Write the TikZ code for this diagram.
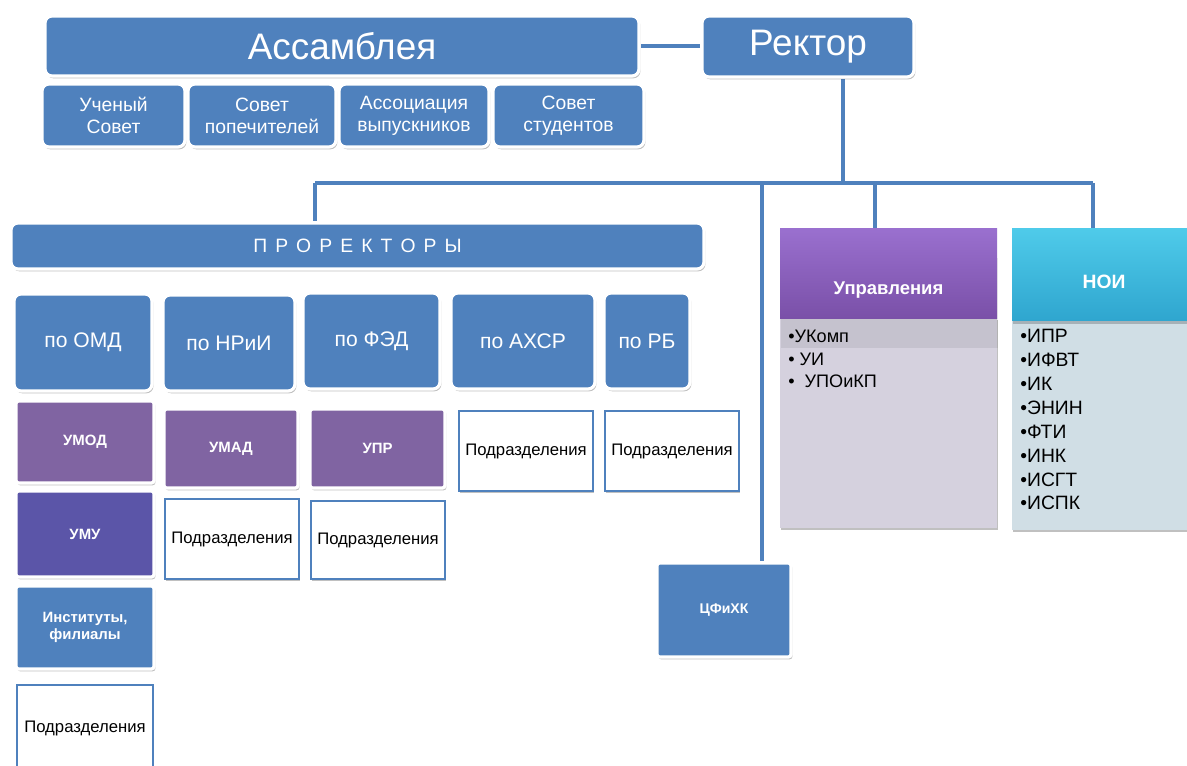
\documentclass[tikz,border=0pt]{standalone}
\usepackage{fontspec}
\setmainfont{Liberation Sans}
\usetikzlibrary{shadows,calc,backgrounds}
\definecolor{blu}{HTML}{4F81BD}
\definecolor{purp}{HTML}{8064A2}
\definecolor{umuc}{HTML}{5B55A8}
\definecolor{uprtop}{HTML}{9A70CF}
\definecolor{uprbot}{HTML}{7A50A8}
\definecolor{uprbody}{HTML}{D5D1DE}
\definecolor{noitop}{HTML}{4FCBEA}
\definecolor{noibot}{HTML}{2FA6CF}
\definecolor{noibody}{HTML}{D0DEE5}
\newcommand{\pbox}[7]{%
  \pgfmathsetmacro\bw{(#5-#3)*0.02}%
  \pgfmathsetmacro\bh{(#6-#4)*0.02}%
  \node[#1, minimum width=\bw cm, minimum height=\bh cm] (#2) at ({(#3+#5)/2},{(#4+#6)/2}) {#7};}
\tikzset{
  shad/.style={drop shadow={shadow xshift=0.8pt, shadow yshift=-1.3pt, opacity=0.35, fill=black!70}},
  bbox/.style={shad, fill=blu, draw=white, line width=1.8pt, rounded corners=4pt, text=white, inner sep=0pt, align=center},
  sqbox/.style={shad, draw=white, line width=1.8pt, rounded corners=1.5pt, text=white, inner sep=0pt, align=center, font=\fontsize{8.5pt}{10pt}\selectfont\bfseries},
  podbox/.style={shad, fill=white, draw=blu, line width=1.6pt, text=black, inner sep=0pt, align=center, font=\fontsize{9.5pt}{11pt}\selectfont},
  conn/.style={draw=blu, line width=2.8pt},
  listtext/.style={anchor=north west, align=left, inner sep=0pt, text=black}
}
\begin{document}
\begin{tikzpicture}[x=0.02cm,y=-0.02cm]
\clip (0,0) rectangle (1187,765);
% top
\pbox{bbox,font=\fontsize{21pt}{24pt}\selectfont}{asm}{45}{16}{639}{76}{Ассамблея}
\pbox{bbox,font=\fontsize{21pt}{24pt}\selectfont}{rek}{702}{16}{914}{77}{Ректор}
\pbox{bbox,font=\fontsize{11pt}{12.5pt}\selectfont}{us}{42}{84}{185}{147}{Ученый\\Совет}
\pbox{bbox,font=\fontsize{11pt}{12.5pt}\selectfont}{sp}{188}{84}{336}{147}{Совет\\попечителей}
\pbox{bbox,font=\fontsize{11pt}{12.5pt}\selectfont}{av}{339}{84}{489}{147}{Ассоциация\\выпускников}
\pbox{bbox,font=\fontsize{11pt}{12.5pt}\selectfont}{ss}{493}{84}{644}{147}{Совет\\студентов}
% prorektory
\pbox{bbox,font=\fontsize{11pt}{13pt}\selectfont}{pro}{11}{223}{704}{269}{П\hspace{4.6pt}Р\hspace{4.6pt}О\hspace{4.6pt}Р\hspace{4.6pt}Е\hspace{4.6pt}К\hspace{4.6pt}Т\hspace{4.6pt}О\hspace{4.6pt}Р\hspace{4.6pt}Ы}
\pbox{bbox,font=\fontsize{12pt}{14pt}\selectfont}{omd}{14}{294}{152}{391}{по ОМД}
\pbox{bbox,font=\fontsize{12pt}{14pt}\selectfont}{nri}{163}{295}{295}{391}{по НРиИ}
\pbox{bbox,font=\fontsize{12pt}{14pt}\selectfont}{fed}{303}{293}{440}{389}{по ФЭД}
\pbox{bbox,font=\fontsize{12pt}{14pt}\selectfont}{ahs}{451}{293}{595}{389}{по АХСР}
\pbox{bbox,font=\fontsize{12pt}{14pt}\selectfont}{rb}{604}{293}{690}{389}{по РБ}
% column boxes
\pbox{sqbox,fill=purp}{umod}{16}{401}{154}{483}{УМОД}
\pbox{sqbox,fill=umuc}{umu}{16}{491}{154}{577}{УМУ}
\pbox{sqbox,fill=blu}{inst}{16}{586}{154}{669}{Институты,\\филиалы}
\pbox{podbox}{podA}{17}{685}{153}{772}{Подразделения}
\pbox{sqbox,fill=purp}{umad}{164}{409}{298}{488}{УМАД}
\pbox{podbox}{podB}{165}{499}{299}{579}{Подразделения}
\pbox{sqbox,fill=purp}{uprr}{310}{409}{445}{488}{УПР}
\pbox{podbox}{podC}{311}{501}{445}{579}{Подразделения}
\pbox{podbox}{podD}{459}{411}{593}{491}{Подразделения}
\pbox{podbox}{podE}{605}{411}{739}{491}{Подразделения}
\pbox{sqbox,fill=blu,font=\fontsize{8pt}{10pt}\selectfont\bfseries}{cf}{657}{563}{791}{657}{ЦФиХК}
% right columns
\pbox{shad,fill=uprbody,inner sep=0pt}{uprb}{780}{318}{997}{528}{}
\pbox{fill=noibody,inner sep=0pt,drop shadow={shadow xshift=0.8pt, shadow yshift=-1.3pt, opacity=0.35, fill=black!70}}{noib}{1012}{320}{1200}{530}{}
\pbox{top color=uprtop,bottom color=uprbot,inner sep=0pt,drop shadow={shadow xshift=0.6pt, shadow yshift=-17pt, opacity=0.07, fill=black}}{uprh}{780}{228}{997}{318}{}
\pbox{top color=noitop,bottom color=noibot,inner sep=0pt,drop shadow={shadow xshift=0.6pt, shadow yshift=-2pt, opacity=0.2, fill=black}}{noih}{1012}{228}{1200}{320}{}
\node[text=white,font=\fontsize{10.5pt}{12pt}\selectfont\bfseries] (uprt) at ($(uprh.center)+(0,17)$) {Управления};
\node[text=white,font=\fontsize{11pt}{12pt}\selectfont\bfseries] (noit) at (1104,282) {НОИ};
\node[listtext,font=\fontsize{10.3pt}{12.8pt}\selectfont] (uprl) at (788,330) {•УКомп\\• УИ\\•\ \ УПОиКП};
\node[listtext,font=\fontsize{11pt}{13.6pt}\selectfont] (noil) at (1020,329) {•ИПР\\•ИФВТ\\•ИК\\•ЭНИН\\•ФТИ\\•ИНК\\•ИСГТ\\•ИСПК};
% connectors
\begin{pgfonlayer}{background}
\fill[white] (0,0) rectangle (1187,765);
\coordinate (rbus) at (843,183);
\coordinate (busL) at (315,183);
\coordinate (busC) at (762,183);
\coordinate (busU) at (875,183);
\coordinate (busR) at (1093,183);
\draw[conn] (asm.east) -- (asm.east -| rek.west);
\draw[conn] (rek.south -| rbus) -- (rbus);
\draw[conn] (busL) -- (busR);
\draw[conn] (busL) -- (pro.north -| busL);
\draw[conn] (busC) -- (cf.north -| busC);
\draw[conn] (busU) -- (uprh.north -| busU);
\draw[conn] (busR) -- (noih.north -| busR);
\end{pgfonlayer}
\end{tikzpicture}
\end{document}
